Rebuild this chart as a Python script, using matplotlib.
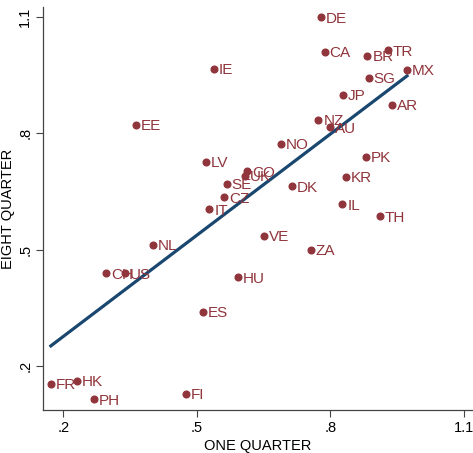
import numpy as np
import matplotlib
matplotlib.use("Agg")
import matplotlib.pyplot as plt

plt.rcParams["font.family"] = ["Liberation Sans", "DejaVu Sans"]

# country codes and the two horizons
countries = ["DE", "CA", "BR", "TR", "MX", "SG", "JP", "AR", "IE", "EE",
             "NZ", "AU", "NO", "LV", "PK", "CO", "UK", "SE", "KR", "DK",
             "CZ", "IL", "IT", "TH", "VE", "NL", "ZA", "CH", "US", "HU",
             "ES", "FR", "HK", "FI", "PH"]
one_quarter = [0.778, 0.787, 0.883, 0.929, 0.972, 0.886, 0.828, 0.938, 0.539, 0.363,
               0.773, 0.800, 0.688, 0.520, 0.880, 0.613, 0.609, 0.567, 0.835, 0.713,
               0.561, 0.827, 0.528, 0.911, 0.651, 0.401, 0.756, 0.296, 0.339, 0.593,
               0.513, 0.172, 0.230, 0.475, 0.268]
eight_quarter = [1.099, 1.010, 0.999, 1.014, 0.963, 0.943, 0.900, 0.874, 0.966, 0.822,
                 0.835, 0.815, 0.773, 0.727, 0.740, 0.702, 0.690, 0.669, 0.687, 0.663,
                 0.635, 0.617, 0.604, 0.586, 0.535, 0.512, 0.499, 0.439, 0.439, 0.429,
                 0.340, 0.154, 0.162, 0.128, 0.114]

ticks = [0.2, 0.5, 0.8, 1.1]
tick_labels = [".2", ".5", ".8", "1.1"]

dot_color = "#90353b"
line_color = "#1a476f"

x = np.array(one_quarter)
y = np.array(eight_quarter)

fig = plt.figure(figsize=(4.73, 4.53), dpi=100)
ax = fig.add_axes([0.0915, 0.095, 0.9055, 0.889])

# linear fit over the range of the data
slope, intercept = np.polyfit(x, y, 1)
xs = np.array([x.min(), x.max()])
ax.plot(xs, intercept + slope * xs, color=line_color, lw=2.3, zorder=1)

ax.plot(x, y, "o", ms=4.8, color=dot_color, zorder=2)
for c, xi, yi in zip(countries, x, y):
    ax.annotate(c, (xi, yi), xytext=(3.5, -1), textcoords="offset points",
                va="center", ha="left", fontsize=11, color=dot_color,
                family=["Liberation Sans Narrow", "Liberation Sans", "DejaVu Sans"],
                zorder=3)

ax.set_xlim(0.155, 1.117)
ax.set_ylim(0.0865, 1.125)
ax.set_xticks(ticks)
ax.set_xticklabels(tick_labels)
ax.set_yticks(ticks)
ax.set_yticklabels(tick_labels, rotation=90, va="center")
ax.tick_params(labelsize=10.5, length=5, width=0.8, color="#444444", pad=3)

for s in ["top", "right"]:
    ax.spines[s].set_visible(False)
for s in ["left", "bottom"]:
    ax.spines[s].set_color("#444444")
    ax.spines[s].set_linewidth(0.9)

ax.set_xlabel("ONE QUARTER", fontsize=10.5, labelpad=3)
ax.set_ylabel("EIGHT QUARTER", fontsize=10.5, labelpad=2)

fig.savefig("out.png", dpi=100)
